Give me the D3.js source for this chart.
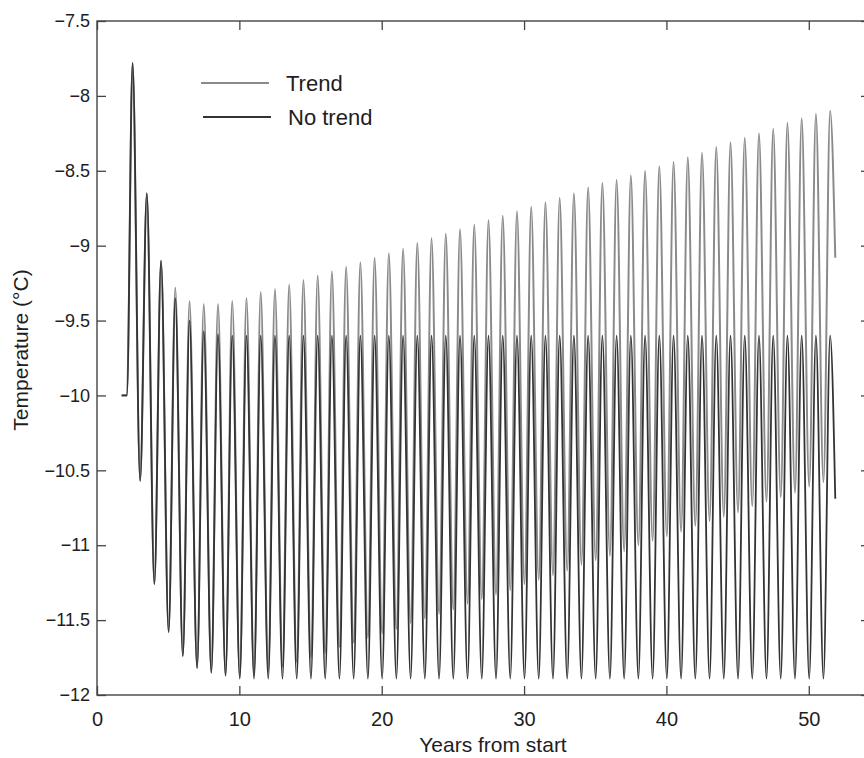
<!DOCTYPE html>
<html>
<head>
<meta charset="utf-8">
<script src="https://cdn.jsdelivr.net/npm/d3@7"></script>
<style>
  body { margin: 0; background: #fff; }
  text { font-family: "Liberation Sans", Arial, Helvetica, sans-serif; fill: #1e1e1e; }
</style>
</head>
<body>
<div id="chart"></div>
<script>
// one oscillation per year: the peak comes half a year after the cycle start,
// the trough right after the next year begins
const cycleYears = [2, 3, 4, 5, 6, 7, 8, 9, 10, 11, 12, 13, 14, 15, 16, 17, 18, 19, 20, 21,
  22, 23, 24, 25, 26, 27, 28, 29, 30, 31, 32, 33, 34, 35, 36, 37, 38, 39, 40, 41,
  42, 43, 44, 45, 46, 47, 48, 49, 50, 51];
const peakOffset = 0.5;
const troughOffset = 1.03;

const startYears = [1.73, 2.1];
const startValues = [-10.0, -10.0];
const endYear = 51.86;

const trendPeaks = [-7.78, -8.65, -9.10, -9.28, -9.37, -9.39, -9.39, -9.37, -9.35, -9.31,
  -9.29, -9.26, -9.23, -9.20, -9.17, -9.14, -9.11, -9.08, -9.05, -9.02,
  -8.98, -8.95, -8.92, -8.89, -8.86, -8.83, -8.80, -8.77, -8.74, -8.71,
  -8.68, -8.65, -8.61, -8.58, -8.56, -8.53, -8.50, -8.47, -8.44, -8.41,
  -8.38, -8.34, -8.31, -8.28, -8.25, -8.22, -8.18, -8.15, -8.12, -8.10];
const trendTroughs = [-10.57, -11.26, -11.58, -11.74, -11.82, -11.85, -11.87, -11.88, -11.87, -11.84,
  -11.81, -11.78, -11.75, -11.72, -11.68, -11.65, -11.62, -11.59, -11.56, -11.52,
  -11.49, -11.46, -11.43, -11.39, -11.36, -11.33, -11.30, -11.26, -11.23, -11.20,
  -11.17, -11.13, -11.10, -11.07, -11.04, -11.00, -10.97, -10.94, -10.91, -10.87,
  -10.84, -10.81, -10.78, -10.74, -10.71, -10.68, -10.65, -10.61, -10.58];
const trendEnd = -9.08;

const noTrendPeaks = [-7.78, -8.65, -9.10, -9.35, -9.50, -9.57, -9.59, -9.60, -9.60, -9.60,
  -9.60, -9.60, -9.60, -9.60, -9.60, -9.60, -9.60, -9.60, -9.60, -9.60,
  -9.60, -9.60, -9.60, -9.60, -9.60, -9.60, -9.60, -9.60, -9.60, -9.60,
  -9.60, -9.60, -9.60, -9.60, -9.60, -9.60, -9.60, -9.60, -9.60, -9.60,
  -9.60, -9.60, -9.60, -9.60, -9.60, -9.60, -9.60, -9.60, -9.60, -9.60];
const noTrendTroughs = [-10.57, -11.26, -11.58, -11.74, -11.82, -11.85, -11.87, -11.89, -11.89, -11.89,
  -11.89, -11.89, -11.89, -11.89, -11.89, -11.89, -11.89, -11.89, -11.89, -11.89,
  -11.89, -11.89, -11.89, -11.89, -11.89, -11.89, -11.89, -11.89, -11.89, -11.89,
  -11.89, -11.89, -11.89, -11.89, -11.89, -11.89, -11.89, -11.89, -11.89, -11.89,
  -11.89, -11.89, -11.89, -11.89, -11.89, -11.89, -11.89, -11.89, -11.89];
const noTrendEnd = -10.69;

const xTicks = [0, 10, 20, 30, 40, 50];
const yTicks = [-12, -11.5, -11, -10.5, -10, -9.5, -9, -8.5, -8, -7.5];
const seriesNames = ['Trend', 'No trend'];

const width = 864;
const height = 758;
const margin = { top: 21, right: -6, bottom: 63, left: 97 };
const innerW = width - margin.left - margin.right;
const innerH = height - margin.top - margin.bottom;

function buildSeries(peaks, troughs, endValue) {
  const pts = startYears.map((t, i) => ({ t, v: startValues[i] }));
  cycleYears.forEach((n, i) => {
    pts.push({ t: n + peakOffset, v: peaks[i] });
    if (i < troughs.length) pts.push({ t: n + troughOffset, v: troughs[i] });
  });
  pts.push({ t: endYear, v: endValue });
  return pts;
}

const series = [
  { name: seriesNames[0], color: '#8a8a8a', width: 2, points: buildSeries(trendPeaks, trendTroughs, trendEnd) },
  { name: seriesNames[1], color: '#333', width: 1.8, points: buildSeries(noTrendPeaks, noTrendTroughs, noTrendEnd) }
];

const svg = d3.select('#chart').append('svg')
  .attr('width', width)
  .attr('height', height);

const x = d3.scaleLinear().domain([0, 54.3]).range([0, innerW]);
const y = d3.scaleLinear().domain([-12, -7.5]).range([innerH, 0]);

const g = svg.append('g').attr('transform', `translate(${margin.left},${margin.top})`);

g.append('clipPath').attr('id', 'clip')
  .append('rect').attr('width', innerW).attr('height', innerH);

const line = d3.line()
  .x(d => x(d.t))
  .y(d => y(d.v))
  .curve(d3.curveMonotoneX);

g.append('g').attr('clip-path', 'url(#clip)')
  .selectAll('path')
  .data(series)
  .enter().append('path')
  .attr('d', d => line(d.points))
  .attr('fill', 'none')
  .attr('stroke', d => d.color)
  .attr('stroke-width', d => d.width);

// axes, MATLAB style: box with inward ticks
const axisColor = '#444';
const fmt = d3.format('');

const xAxis = g.append('g').attr('transform', `translate(0,${innerH})`)
  .call(d3.axisBottom(x).tickValues(xTicks).tickSizeInner(-9).tickSizeOuter(0).tickPadding(17).tickFormat(fmt));
const xTop = g.append('g')
  .call(d3.axisTop(x).tickValues(xTicks).tickSizeInner(-9).tickSizeOuter(0).tickFormat(''));
const yAxis = g.append('g')
  .call(d3.axisLeft(y).tickValues(yTicks).tickSizeInner(-9).tickSizeOuter(0).tickPadding(7).tickFormat(fmt));
const yRight = g.append('g').attr('transform', `translate(${innerW},0)`)
  .call(d3.axisRight(y).tickValues(yTicks).tickSizeInner(-9).tickSizeOuter(0).tickFormat(''));

[xAxis, xTop, yAxis, yRight].forEach(a => {
  a.select('.domain').remove();
  a.selectAll('line').attr('stroke', axisColor).attr('stroke-width', 1.3);
});
xAxis.selectAll('text').style('font-size', '20px').attr('fill', '#1e1e1e');
yAxis.selectAll('text').style('font-size', '18px').attr('fill', '#1e1e1e');

g.append('rect')
  .attr('width', innerW).attr('height', innerH)
  .attr('fill', 'none').attr('stroke', axisColor).attr('stroke-width', 1.4);

svg.append('text')
  .attr('x', 493).attr('y', 752)
  .attr('text-anchor', 'middle')
  .style('font-size', '21px')
  .text('Years from start');

svg.append('text')
  .attr('transform', `translate(28,${margin.top + innerH / 2 - 8}) rotate(-90)`)
  .attr('text-anchor', 'middle')
  .style('font-size', '21px')
  .text('Temperature (°C)');

// legend
const legend = g.append('g').attr('transform', 'translate(104,62)');
const legendItems = legend.selectAll('g')
  .data(series)
  .enter().append('g')
  .attr('transform', (d, i) => `translate(${i * 2},${i * 34})`);
legendItems.append('line')
  .attr('x1', 0).attr('x2', 68)
  .attr('stroke', d => d.color)
  .attr('stroke-width', 2.2);
legendItems.append('text')
  .attr('x', 85).attr('dy', '0.35em')
  .style('font-size', '22px')
  .text(d => d.name);
</script>
</body>
</html>
